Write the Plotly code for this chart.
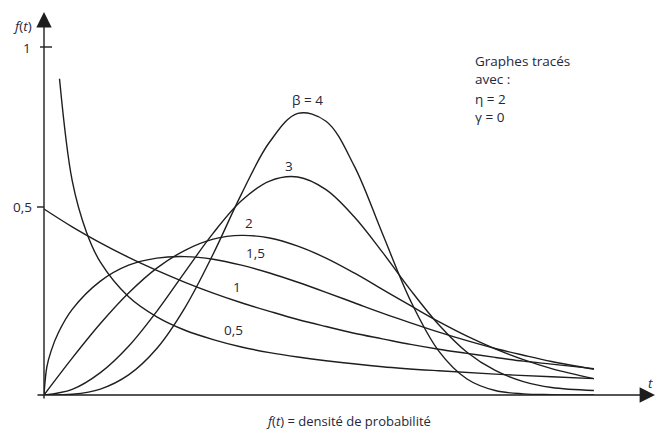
import plotly.graph_objects as go

# Weibull densities (eta = 2, gamma = 0)
t = [0, 0.2, 0.4, 0.6, 0.8, 1.0, 1.2, 1.4, 1.6, 1.8, 2.0, 2.2, 2.4, 2.6, 2.8, 3.0, 3.2, 3.4, 3.6, 3.9]
t_b05 = [0.11, 0.2, 0.3, 0.4, 0.6, 0.8, 1.0, 1.2, 1.4, 1.6, 1.8, 2.0, 2.4, 2.8, 3.2, 3.6, 3.9]
t_b15 = [0, 0.02, 0.05, 0.1, 0.2, 0.4, 0.6, 0.8, 1.0, 1.2, 1.4, 1.6, 1.8, 2.0, 2.2, 2.4, 2.6,
         2.8, 3.0, 3.2, 3.4, 3.6, 3.9]
f_b05 = [0.85, 0.576, 0.439, 0.357, 0.264, 0.210, 0.174, 0.149, 0.129, 0.114, 0.102, 0.092,
         0.076, 0.065, 0.056, 0.049, 0.044]
f_b1 = [0.5, 0.452, 0.409, 0.370, 0.335, 0.303, 0.274, 0.248, 0.225, 0.203, 0.184, 0.166,
        0.151, 0.136, 0.123, 0.112, 0.101, 0.091, 0.083, 0.071]
f_b15 = [0.0, 0.075, 0.118, 0.166, 0.230, 0.306, 0.349, 0.368, 0.372, 0.365, 0.349, 0.328,
         0.303, 0.276, 0.248, 0.220, 0.194, 0.169, 0.146, 0.125, 0.107, 0.090, 0.069]
f_b2 = [0.0, 0.099, 0.192, 0.274, 0.341, 0.389, 0.419, 0.429, 0.422, 0.400, 0.368, 0.328,
        0.284, 0.240, 0.197, 0.158, 0.124, 0.095, 0.071, 0.044]
f_b3 = [0.0, 0.015, 0.060, 0.131, 0.225, 0.331, 0.435, 0.522, 0.575, 0.586, 0.552, 0.479,
        0.384, 0.282, 0.189, 0.115, 0.066, 0.036, 0.020, 0.012]
f_b4 = [0.0, 0.002, 0.016, 0.054, 0.125, 0.235, 0.379, 0.540, 0.680, 0.757, 0.736, 0.616,
        0.434, 0.253, 0.118, 0.043, 0.012, 0.003, 0.001, 0.0]

curve_labels = ["0,5", "1", "1,5", "2", "3", "β = 4"]

# pixel geometry helpers (for text / decoration placement only)
L, B, W, H = 44, 35, 612, 395
SX, SY = 141.0, 372.0
def px_x(px):   # pixel -> paper x
    return (px - L) / W
def px_y(py):   # pixel -> paper y
    return (430 - B - py) / H
def dx(px):     # pixel -> data x
    return (px - L) / SX
def dy(py):     # pixel -> data y
    return (430 - B - py) / SY

LINE = "#1e1e1e"
TXT = "#24283a"
FONT = "Open Sans, Noto Sans, sans-serif"

fig = go.Figure()
series = [(t_b05, f_b05), (t, f_b1), (t_b15, f_b15), (t, f_b2), (t, f_b3), (t, f_b4)]
for (xs, ys), name in zip(series, curve_labels):
    fig.add_trace(go.Scatter(x=xs, y=ys, mode="lines", name=name,
                             line=dict(color=LINE, width=1.4, shape="spline", smoothing=1.0),
                             hoverinfo="skip", showlegend=False))

ann = []
# axes with arrowheads
ann.append(dict(x=dx(655), y=0, ax=dx(36), ay=0, xref="x", yref="y", axref="x", ayref="y",
                text="", showarrow=True, arrowhead=2, arrowsize=2.2, arrowwidth=1.4, arrowcolor=LINE))
ann.append(dict(x=0, y=dy(12), ax=0, ay=dy(400), xref="x", yref="y", axref="x", ayref="y",
                text="", showarrow=True, arrowhead=2, arrowsize=2.2, arrowwidth=1.4, arrowcolor=LINE))

def label(px, py, txt, size=13.5, xanchor="center", align="center"):
    ann.append(dict(x=px_x(px), y=px_y(py), xref="paper", yref="paper", text=txt, showarrow=False,
                    xanchor=xanchor, yanchor="middle", align=align,
                    font=dict(family=FONT, size=size, color=TXT)))

label(22, 26, "<i>f</i>(<i>t</i>)")
label(33, 48, "1", xanchor="right")
label(34, 207, "0,5", xanchor="right")
label(650, 383, "<i>t</i>")
label(307, 100, "β = 4")
label(289, 166, "3")
label(249, 223, "2")
label(255, 253, "1,5")
label(237, 287, "1")
label(233, 330, "0,5")
label(473, 70, "Graphes tracés<br>avec :", size=13.5, xanchor="left", align="left")
label(473, 108, "η = 2<br>γ = 0", size=13.5, xanchor="left", align="left")
label(348, 421, "<i>f</i>(<i>t</i>) = densité de probabilité", size=13)

shapes = [
    dict(type="line", xref="paper", yref="paper", x0=px_x(37), x1=px_x(44), y0=px_y(207), y1=px_y(207),
         line=dict(color=LINE, width=1.4)),
    dict(type="line", xref="paper", yref="paper", x0=px_x(40), x1=px_x(52), y0=px_y(47), y1=px_y(47),
         line=dict(color=LINE, width=1.4)),
]

fig.update_layout(
    width=656, height=430,
    margin=dict(l=L, r=656 - L - W, t=430 - B - H, b=B),
    paper_bgcolor="white", plot_bgcolor="white",
    xaxis=dict(range=[0, W / SX], visible=False, fixedrange=True),
    yaxis=dict(range=[0, H / SY], visible=False, fixedrange=True),
    annotations=ann, shapes=shapes,
    font=dict(family=FONT, color=TXT),
)
fig.write_html("out.html", config={"displayModeBar": False})
